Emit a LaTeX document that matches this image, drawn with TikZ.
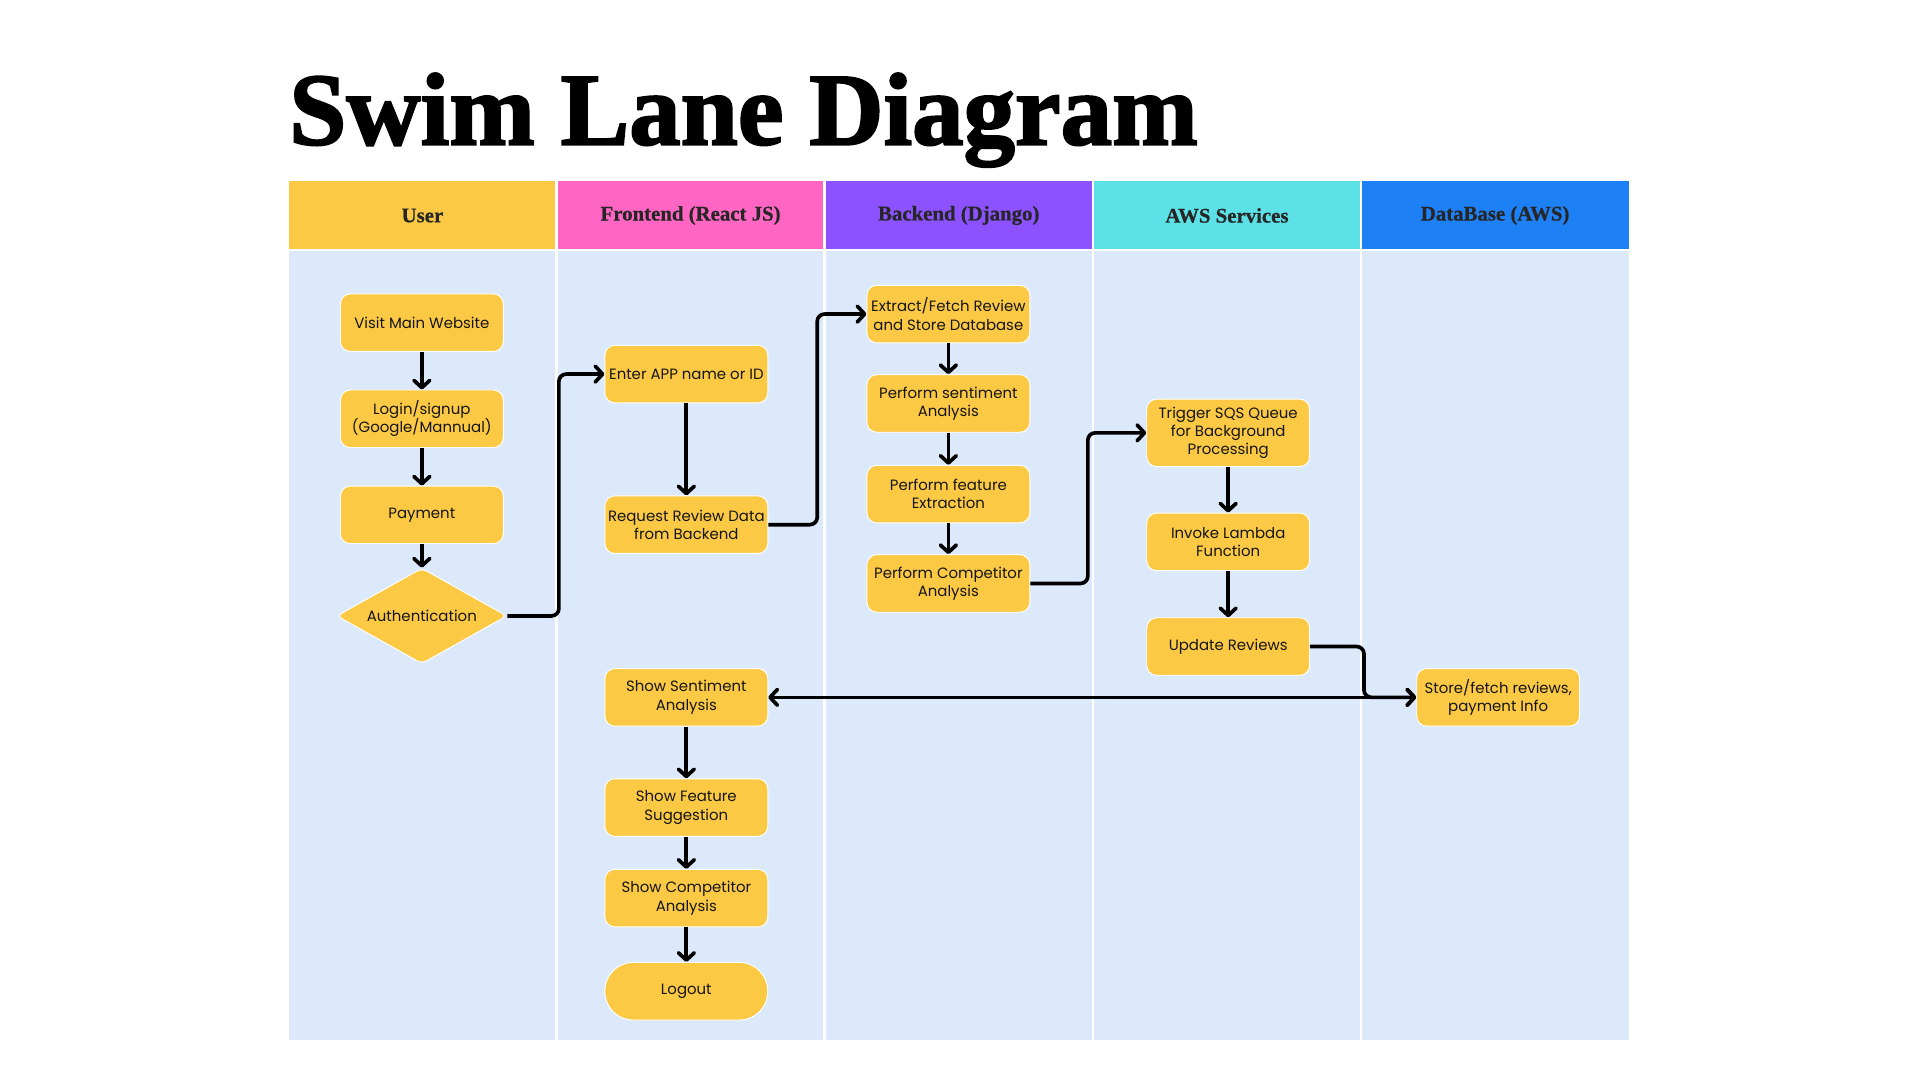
\documentclass[tikz,border=0pt]{standalone}
\usepackage{fontspec}
\setmainfont{Poppins}
\newfontfamily\titlefont[BoldFeatures={FakeBold=2}]{Liberation Serif}
\newfontfamily\headfont[BoldFeatures={FakeBold=0.6}]{Liberation Serif}
\usetikzlibrary{arrows.meta,shapes.geometric}
\definecolor{yel}{HTML}{FCC945}
\definecolor{pinkh}{HTML}{FF66C4}
\definecolor{purph}{HTML}{8C52FF}
\definecolor{cyanh}{HTML}{5CE1E6}
\definecolor{blueh}{HTML}{1E80F5}
\definecolor{lane}{HTML}{DBE9FA}
\definecolor{txt}{HTML}{151515}
\definecolor{hdrtxt}{HTML}{262626}
\tikzset{
  box/.style={draw=white, line width=0.8pt, fill=yel, rounded corners=8pt,
    minimum width=133pt, minimum height=47pt, inner sep=0pt, align=center,
    font=\fontsize{12.2}{15}\selectfont, text=txt},
  tip/.tip={Straight Barb[length=6pt,width=13pt,round]},
  conn/.style={line width=3pt, line join=round, -tip, rounded corners=6pt},
  hdr/.style={font=\headfont\bfseries\fontsize{17}{18}\selectfont, text=hdrtxt},
  sep/.style={draw=white, line width=2pt}
}
\begin{document}
\begin{tikzpicture}[x=1pt,y=-1pt]
\useasboundingbox[fill=white] (0,0) rectangle (1568,882);
% title
\node[anchor=base west, inner sep=0pt, font=\titlefont\bfseries\fontsize{84}{90}\selectfont] (title) at (236,118) {Swim Lane Diagram};
% headers
\fill[yel]   (236,148) rectangle (454.5,204);
\fill[pinkh] (454.5,148) rectangle (673.5,204);
\fill[purph] (673.5,148) rectangle (892.5,204);
\fill[cyanh] (892.5,148) rectangle (1111.5,204);
\fill[blueh] (1111.5,148) rectangle (1330,204);
\fill[lane]  (236,204) rectangle (1330,849);
\draw[sep] (236,204) -- (1330,204);
\foreach \x in {454.5,673.5,892.5,1111.5} \draw[sep] (\x,148) -- (\x,849);
\node[hdr] (h1) at (345,176) {User};
\node[hdr] (h2) at (564,176) {Frontend (React JS)};
\node[hdr] (h3) at (783,176) {Backend (Django)};
\node[hdr] (h4) at (1002,176) {AWS Services};
\node[hdr] (h5) at (1221,176) {DataBase (AWS)};
% user lane
\node[box] (visit) at (344.5,263.5) {Visit Main Website};
\node[box] (login) at (344.5,342) {Login/signup\\(Google/Mannual)};
\node[box] (pay) at (344.5,420.5) {Payment};
\node[draw=white, line width=0.8pt, fill=yel, diamond, aspect=1.78, rounded corners=4pt,
  minimum width=139pt, minimum height=78pt, inner sep=0pt,
  font=\fontsize{12.2}{15}\selectfont, text=txt] (auth) at (344.5,503) {\makebox[10pt]{Authentication}};
% frontend lane
\node[box] (enter) at (560.5,305.5) {Enter APP name or ID};
\node[box] (req) at (560.5,428.5) {Request Review Data\\from Backend};
\node[box] (ss) at (560.5,569.5) {Show Sentiment\\Analysis};
\node[box] (sf) at (560.5,659.5) {Show Feature\\Suggestion};
\node[box] (sc) at (560.5,733.5) {Show Competitor\\Analysis};
\node[box, rounded corners=23pt] (logout) at (560.5,809.5) {Logout};
% backend lane
\node[box] (ext) at (774.5,256.5) {Extract/Fetch Review\\and Store Database};
\node[box] (psa) at (774.5,329.5) {Perform sentiment\\Analysis};
\node[box] (pfe) at (774.5,403.5) {Perform feature\\Extraction};
\node[box] (pca) at (774.5,476.5) {Perform Competitor\\Analysis};
% aws lane
\node[box, minimum height=55pt] (sqs) at (1003,353.5) {Trigger SQS Queue\\for Background\\Processing};
\node[box] (lam) at (1003,442.5) {Invoke Lambda\\Function};
\node[box] (upd) at (1003,528) {Update Reviews};
% db lane
\node[box] (store) at (1223.5,569.5) {Store/fetch reviews,\\payment Info};
% connectors
\draw[conn] (visit) -- (login);
\draw[conn] (login) -- (pay);
\draw[conn] (pay) -- (auth);
\draw[conn] (auth.east) -- ([xshift=42pt]auth.east) |- (enter.west);
\draw[conn] (enter) -- (req);
\draw[conn] (req.east) -- ([xshift=40pt]req.east) |- (ext.west);
\draw[conn] (ext) -- (psa);
\draw[conn] (psa) -- (pfe);
\draw[conn] (pfe) -- (pca);
\draw[conn] (pca.east) -- ([xshift=47pt]pca.east) |- (sqs.west);
\draw[conn] (sqs) -- (lam);
\draw[conn] (lam) -- (upd);
\draw[conn] (upd.east) -- ([xshift=44pt]upd.east) |- (store.west);
\draw[conn, tip-tip] (ss.east) -- (store.west);
\draw[conn] (ss) -- (sf);
\draw[conn] (sf) -- (sc);
\draw[conn] (sc) -- (logout);
\end{tikzpicture}
\end{document}
